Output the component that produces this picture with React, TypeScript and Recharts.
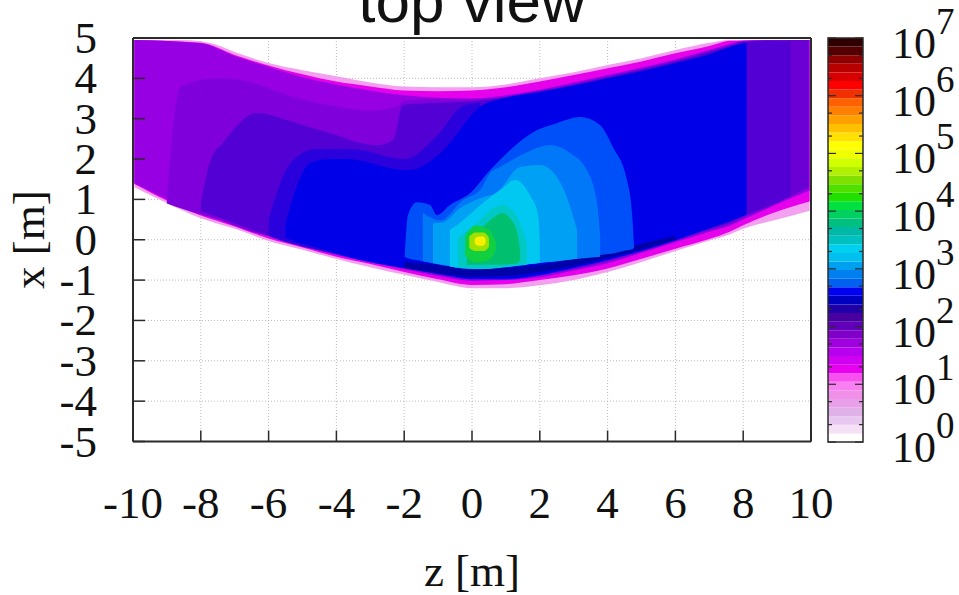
import React from "react";
import { ComposedChart, Area, XAxis, YAxis, CartesianGrid, ReferenceArea } from "recharts";

type Row = [number, number, number]; // z, low x, high x

const zTicks = [-10, -8, -6, -4, -2, 0, 2, 4, 6, 8, 10];
const xTicks = [-5, -4, -3, -2, -1, 0, 1, 2, 3, 4, 5];

const pinkEdge: Row[] = [[-9.96,1.3,4.95],[-8.6,.75,4.95],[-8,.53,4.92],[-7.6,.42,4.85],[-7,.27,4.65],[-6,-.03,4.38],[-5,-.25,4.2],[-4,-.48,4.05],[-3,-.68,3.9],[-2,-.87,3.8],[-1,-1.05,3.78],[0,-1.2,3.78],[1,-1.2,3.85],[2,-1.13,4.0],[3,-1,4.15],[4,-.8,4.33],[5,-.55,4.5],[6,-.28,4.7],[7,-.02,4.88],[7.6,.13,4.95],[8,.27,4.95],[9,.5,4.95],[9.96,.72,4.95]];
const magentaEdge: Row[] = [[-9.96,1.38,4.95],[-8,.6,4.88],[-7,.33,4.58],[-6,.03,4.32],[-5,-.19,4.1],[-4,-.42,3.92],[-3,-.6,3.8],[-2,-.8,3.7],[-1,-.98,3.68],[0,-1.12,3.7],[1,-1.1,3.78],[2,-1,3.92],[3,-.88,4.08],[4,-.71,4.25],[5,-.47,4.42],[6,-.22,4.62],[7,.02,4.8],[7.6,.2,4.93],[8,.36,4.94],[9,.7,4.95],[9.96,.95,4.95]];
const purpleMain: Row[] = [[-9.96,1.4,4.95],[-8,.65,4.87],[-7,.37,4.55],[-6,.08,4.28],[-5,-.15,4.03],[-4,-.38,3.85],[-3,-.56,3.7],[-2,-.73,3.58],[-1,-.9,3.52],[0,-1.02,3.5],[1,-1,3.58],[2,-.93,3.72],[3,-.76,3.9],[4,-.58,4.08],[5,-.32,4.27],[6,-.06,4.47],[7,.2,4.7],[7.6,.35,4.85],[8,.5,4.93],[9,.88,4.95],[9.96,1.22,4.95]];
const purpleDeep: Row[] = [[-9,.9,1.0],[-8.6,.78,3.8],[-7.5,.5,4.0],[-6.5,.2,3.9],[-5.5,0,3.6],[-4,-.3,3.3],[-3,-.5,3.2],[-2.2,-.65,3.3],[-2,-.68,3.45],[-1,-.85,3.48],[0,-.98,3.47],[2,-.88,3.7],[4,-.55,4.05],[6,-.04,4.44],[7,.22,4.68],[7.6,.37,4.82],[8,.52,4.92],[9,.9,4.95],[9.93,1.28,4.95]];
const edgeRight: Row[] = [[9.38,1.08,4.95],[9.93,1.3,4.95]];
const indigo: Row[] = [[-8,.72,.9],[-7.7,.62,2.0],[-7.35,.52,2.4],[-6.35,.2,3.14],[-5.17,-.08,2.89],[-4.19,-.3,2.64],[-2.8,-.52,2.34],[-2.33,-.62,2.47],[-2.04,-.68,3.34],[.24,-.95,3.45],[2,-.85,3.68],[4,-.5,4.03],[6,0,4.42],[7,.26,4.65],[7.6,.42,4.8],[8,.58,4.9],[8.6,.78,4.93],[9.4,1.08,4.94]];
const blueFringe: Row[] = [[-6,.1,.5],[-5.7,0,1.3],[-5.3,-.1,1.95],[-4.6,-.25,2.25],[-3.6,-.43,2.25],[-2,-.68,2.0],[-1,-.85,2.6],[-.3,-.95,3.3],[.24,-.97,3.4]];
const blueMain: Row[] = [[-5.5,.05,.4],[-5.2,-.05,1.25],[-4.78,-.15,1.9],[-4.19,-.3,2.0],[-3.7,-.42,2.0],[-1.92,-.72,1.72],[-.75,-.88,2.3],[-.06,-.98,3.04],[.24,-.98,3.3],[1,-.98,3.52],[2,-.88,3.66],[3,-.7,3.82],[4,-.51,4.0],[5,-.28,4.18],[6,-.02,4.38],[7,.28,4.6],[7.6,.45,4.78],[8.1,.62,4.88]];
const blueStrip: Row[] = [[-2,-.7,-.55],[-1,-.83,-.62],[0,-.92,-.72],[1,-.9,-.7],[2,-.8,-.62],[3,-.65,-.48],[4,-.45,-.32],[5,-.24,-.1],[6,0,.1]];
const blobA: Row[] = [[-1.98,-.43,-.38],[-1.89,-.46,.61],[-1.62,-.51,.93],[-1.24,-.56,.86],[-1.03,-.61,.61],[-.65,-.66,.86],[-.06,-.73,1.15],[.53,-.71,1.72],[1.12,-.66,2.22],[1.92,-.58,2.72],[2.51,-.53,2.89],[3.19,-.46,3.04],[3.78,-.38,2.84],[4.16,-.34,2.29],[4.57,-.26,1.48],[4.72,-.24,.66],[4.78,-.19,-.19]];
const blobB: Row[] = [[-1.45,-.53,.66],[-.94,-.61,.48],[-.27,-.71,.98],[.24,-.73,1.23],[.53,-.71,1.65],[.83,-.68,1.8],[1.62,-.6,2.17],[2.3,-.54,2.35],[2.89,-.49,2.15],[3.39,-.45,1.72],[3.69,-.43,.9],[3.78,-.42,.11]];
const blobC: Row[] = [[-1.15,-.58,.41],[-.86,-.62,.43],[-.36,-.7,.78],[.24,-.72,1.03],[.74,-.69,1.18],[1.42,-.63,1.8],[2,-.57,1.85],[2.51,-.53,1.55],[2.8,-.5,1.05],[3.1,-.47,.24]];
const blobD: Row[] = [[-.65,-.66,.24],[-.27,-.7,.48],[.32,-.72,.91],[.83,-.68,1.23],[1.27,-.64,1.48],[1.71,-.6,1.1],[1.95,-.58,.61],[2,-.57,-.01]];
const blobE: Row[] = [[-.41,-.68,.06],[.15,-.72,.41],[.53,-.72,.73],[.91,-.69,.86],[1.2,-.66,.73],[1.42,-.64,.41],[1.62,-.62,-.09]];
const blobF: Row[] = [[-.15,-.63,-.09],[-.06,-.62,-.01],[.53,-.62,.48],[.91,-.62,.66],[1.12,-.6,.53],[1.33,-.58,.19],[1.42,-.5,-.26]];
const coreGreen: Row[] = [[-.2,-.4,.1],[.1,-.55,.35],[.5,-.5,.25],[.7,-.25,-.05]];
const coreLime: Row[] = [[-.08,-.2,.08],[.1,-.28,.18],[.35,-.28,.18],[.5,-.18,.05]];
const coreYellow: Row[] = [[.08,-.08,.02],[.18,-.15,.08],[.33,-.15,.08],[.4,-.08,.02]];

const heatLayers: [Row[], string][] = [
  [pinkEdge, "#f3a0f0"], [magentaEdge, "#e600ec"], [purpleMain, "#9600e2"], [purpleDeep, "#8000dc"], [edgeRight, "#6a00d4"],
  [indigo, "#5200d4"], [blueFringe, "#2a00dc"], [blueMain, "#0000e8"], [blueStrip, "#0000a8"], [blobA, "#0050fa"], [blobB, "#0078f8"],
  [blobC, "#00a0f4"], [blobD, "#00c8f0"], [blobE, "#00c8c4"], [blobF, "#00c070"], [coreGreen, "#10d040"],
  [coreLime, "#a0e000"], [coreYellow, "#f8f000"],
];

const decades = [0, 1, 2, 3, 4, 5, 6, 7];
const minorTicks = [.301, .699, 1.301, 1.699, 2.301, 2.699, 3.301, 3.699, 4.301, 4.699, 5.301, 5.699, 6.301, 6.699];
const paletteBottomUp = ["#ffffff","#f5e0f5","#e8c8f0","#e0b0e8","#e8a0e8","#f090e8","#f880f0","#f850f0","#e800f0","#d000f0","#b800f0","#a000e0","#8000c8","#6000b8","#4800a0","#2000a8","#0000c0","#0000f0","#0060f0","#0080f0","#00a0f0","#00c0f0","#00d0f0","#00c0c0","#00b8a8","#00c080","#00d060","#00e040","#20e000","#50e000","#80e000","#b0f000","#d0ff00","#f0ff00","#ffff00","#ffe000","#ffc000","#ffa000","#ff8000","#ff6000","#f03000","#ff0000","#d80000","#b80000","#900000","#550000","#300000"];
const barEdges = [0, 1];

const serif = "'Liberation Serif', serif";
const sans = "'Liberation Sans', sans-serif";
const ink = "#2b2b2b";
const fontPx = 45;

const BottomTick = (p: any) => (
  <g>
    <line x1={p.x} x2={p.x} y1={p.y} y2={p.y - 11} stroke={ink} strokeWidth={1.5} />
    <text x={p.x} y={p.y + 76} textAnchor="middle" fontFamily={serif} fontSize={fontPx} fill="#111">{p.payload.value}</text>
  </g>
);
const TopTick = (p: any) => <line x1={p.x} x2={p.x} y1={p.y} y2={p.y + 11} stroke={ink} strokeWidth={1.5} />;
const LeftTick = (p: any) => (
  <g>
    <line x1={p.x} x2={p.x + 12} y1={p.y} y2={p.y} stroke={ink} strokeWidth={1.5} />
    <text x={p.x - 36} y={p.y + 15} textAnchor="end" fontFamily={serif} fontSize={fontPx} fill="#111">{p.payload.value}</text>
  </g>
);
const RightTick = (p: any) => <line x1={p.x} x2={p.x - 12} y1={p.y} y2={p.y} stroke={ink} strokeWidth={1.5} />;

const BarTick = (p: any) => {
  const v = p.payload.value;
  const major = Number.isInteger(v);
  const len = major ? 8 : 4;
  const left = p.x - 35;
  return (
    <g>
      <line x1={left} x2={left + len} y1={p.y} y2={p.y} stroke={ink} strokeWidth={1.2} />
      <line x1={p.x} x2={p.x - len} y1={p.y} y2={p.y} stroke={ink} strokeWidth={1.2} />
      {major && (
        <text x={p.x + 29} y={p.y + 20} fontFamily={serif} fontSize={fontPx - 1} fill="#111">
          10<tspan dy={-24} fontSize={37}>{v}</tspan>
        </text>
      )}
    </g>
  );
};

const toRows = (rows: Row[]) => rows.map(([z, low, high]) => ({ z, band: [low, high] }));
const bandOf = (d: any) => d.band;

export default function App() {
  const step = 7 / paletteBottomUp.length;
  return (
    <div style={{ position: "absolute", left: 0, top: 0, width: 959, height: 595, background: "#fff", overflow: "hidden" }}>
      <style>{`.recharts-area-area{filter:blur(0.7px)}`}</style>
      <div style={{ position: "absolute", left: 0, top: 0 }}>
        <ComposedChart width={959} height={595} margin={{ top: 37, right: 147, bottom: 93.5, left: 33 }}>
          <CartesianGrid xAxisId="b" yAxisId="l" stroke="#bbbbbb" strokeDasharray="1 2" strokeWidth={1} />
          <XAxis xAxisId="b" type="number" dataKey="z" domain={[-10, 10]} ticks={zTicks} interval={0} height={60} tickSize={0} tickMargin={0} tickLine={false} tick={BottomTick} stroke={ink} strokeWidth={2}
            label={{ value: "z [m]", position: "bottom", offset: 53, fontFamily: serif, fontSize: fontPx, fill: "#111" }} />
          <XAxis xAxisId="t" orientation="top" type="number" dataKey="z" domain={[-10, 10]} ticks={zTicks} interval={0} height={1} tickSize={0} tickMargin={0} tickLine={false} tick={TopTick} stroke={ink} strokeWidth={2}
            label={{ value: "top view", position: "top", offset: 15, fontFamily: sans, fontSize: 62, fill: "#111" }} />
          <YAxis yAxisId="l" type="number" domain={[-5, 5]} ticks={xTicks} interval={0} width={100} tickSize={0} tickMargin={0} tickLine={false} tick={LeftTick} stroke={ink} strokeWidth={2}
            label={{ value: "x [m]", angle: -90, position: "insideLeft", offset: -5, textAnchor: "middle", fontFamily: serif, fontSize: fontPx, fill: "#111" }} />
          <YAxis yAxisId="r" orientation="right" type="number" domain={[-5, 5]} ticks={xTicks} interval={0} width={1} tickSize={0} tickMargin={0} tickLine={false} tick={RightTick} stroke={ink} strokeWidth={2} />
          {heatLayers.map(([rows, color], i) => (
            <Area key={i} xAxisId="b" yAxisId="l" data={toRows(rows)} dataKey={bandOf} type="monotone" fill={color} fillOpacity={1} stroke="none" dot={false} activeDot={false} isAnimationActive={false} />
          ))}
        </ComposedChart>
      </div>
      <div style={{ position: "absolute", left: 0, top: 0 }}>
        <ComposedChart width={959} height={595} margin={{ top: 38, right: 36, bottom: 153, left: 828 }}>
          <XAxis type="number" dataKey="p" domain={[0, 1]} hide />
          <YAxis orientation="right" type="number" domain={[0, 7]} ticks={[...decades, ...minorTicks]} interval={0} width={60} tickSize={0} tickMargin={0} tickLine={false} axisLine={false} tick={BarTick} />
          {paletteBottomUp.map((color, i) => (
            <Area key={i} data={barEdges.map((p) => ({ p, band: [i * step, (i + 1) * step] }))} dataKey={bandOf} type="linear" fill={color} fillOpacity={1} stroke="none" dot={false} activeDot={false} isAnimationActive={false} />
          ))}
          <ReferenceArea x1={0} x2={1} y1={0} y2={7} fill="none" stroke={ink} strokeWidth={1.5} />
        </ComposedChart>
      </div>
    </div>
  );
}
